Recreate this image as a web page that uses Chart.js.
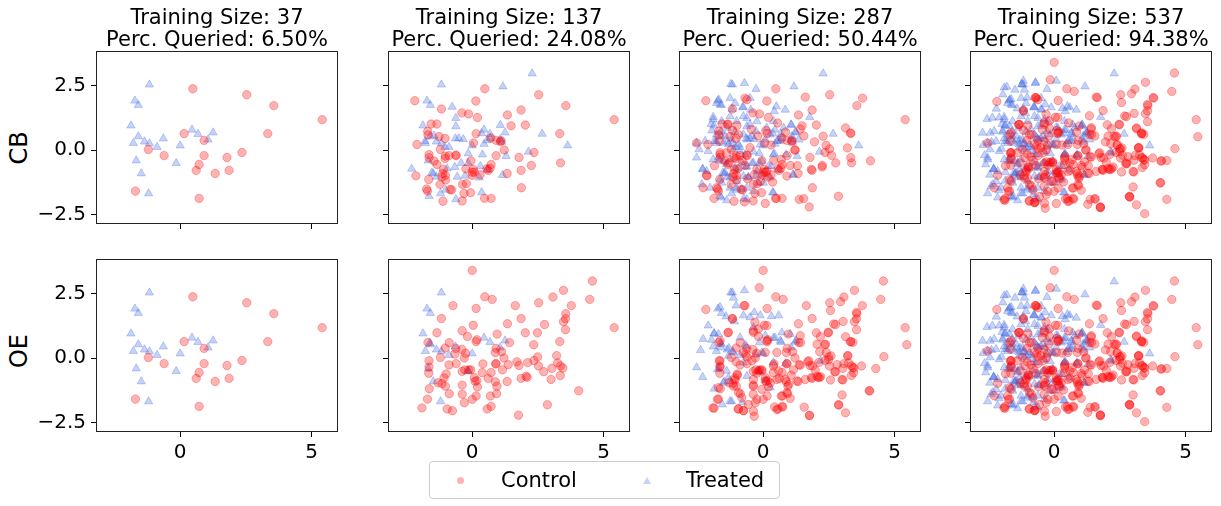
<!DOCTYPE html>
<html>
<head>
<meta charset="utf-8">
<script src="https://cdn.jsdelivr.net/npm/chart.js@4.4.1/dist/chart.umd.min.js"></script>
<style>
  body { margin: 0; background: #fff; width: 1221px; height: 506px; overflow: hidden; font-family: 'DejaVu Sans', sans-serif; }
  canvas { position: absolute; }
  .rowlab { position: absolute; font-size: 24px; color: #000; transform: translate(-50%, -50%) rotate(-90deg); white-space: nowrap; }
  #legend { position: absolute; left: 429px; top: 461px; width: 349px; height: 36px; border: 1px solid #ccc; border-radius: 4px; background: #fff; }
  #legend .txt { position: absolute; top: 0; line-height: 37px; font-size: 21px; color: #000; }
  #legend .circ { position: absolute; left: 27px; top: 15px; width: 7px; height: 7px; border-radius: 50%; background: rgba(255,0,0,0.3); }
  #legend .tri { position: absolute; left: 213px; top: 15px; width: 0; height: 0; border-left: 4px solid transparent; border-right: 4px solid transparent; border-bottom: 7px solid rgba(65,105,225,0.3); }
</style>
</head>
<body>
<div class="rowlab" style="left:19px;top:148px;">CB</div>
<div class="rowlab" style="left:19px;top:351px;">OE</div>
<div id="legend">
  <span class="circ"></span><span class="txt" id="lab0" style="left:71px;"></span>
  <span class="tri"></span><span class="txt" id="lab1" style="left:256px;"></span>
</div>
<script>
// ejes y etiquetas
const xTicks = [0, 5];
const xTickText = ['0', '5'];
const yTicks = [-2.5, 0, 2.5];
const yTickText = ['\u22122.5', '0.0', '2.5'];
const rowNames = ['CB', 'OE'];
const seriesNames = ['Control', 'Treated'];
const trainSizes = [37, 137, 287, 537];
const percQueried = ['6.50%', '24.08%', '50.44%', '94.38%'];

// panel 1 (igual en ambas filas)
const ctrl37 = [[0.48,2.37],[2.53,2.14],[3.56,1.72],[5.40,1.18],[3.33,0.64],[0.15,0.64],[0.91,0.38],[-1.21,0.03],[-0.61,-0.21],[0.91,-0.21],[1.78,-0.28],[2.35,-0.09],[0.72,-0.55],[0.61,-0.78],[1.33,-0.90],[1.86,-0.78],[-1.70,-1.58],[0.72,-1.86]];
const treat37 = [[-1.17,2.53],[-1.72,1.91],[-1.59,1.74],[-1.87,0.95],[-1.59,0.53],[-1.78,0.27],[-1.36,0.33],[-1.17,0.26],[-0.88,0.12],[-0.64,0.45],[0.00,0.18],[-1.67,-0.40],[-1.48,-0.90],[-1.20,-1.67],[-0.15,-0.50],[0.45,0.79],[0.68,0.62],[1.06,0.41],[1.25,0.68]];

// CB: puntos nuevos hasta 137
const cbCtrl137 = [[-2.18,1.91],[0.14,1.90],[-0.39,1.44],[-0.14,1.40],[0.20,1.26],[-1.17,1.59],[1.34,1.36],[1.86,1.55],[1.48,0.94],[2.02,0.97],[-1.56,1.01],[-1.34,1.01],[-1.69,0.73],[-1.68,0.59],[-1.26,0.53],[-1.03,0.45],[-2.10,0.22],[-1.64,-0.17],[-1.64,-0.29],[-1.45,-0.42],[-1.34,-0.55],[-1.03,-0.32],[-0.88,-0.21],[0.05,0.28],[0.71,0.47],[1.22,0.01],[3.36,-0.49],[2.25,-0.59],[-0.05,-0.41],[-0.24,-0.72],[0.04,-0.74],[0.08,-0.85],[0.00,-0.97],[-0.22,-1.29],[-0.37,-1.32],[-0.06,-1.64],[-0.31,-1.67],[-0.38,-1.96],[0.47,-1.86],[1.87,-1.45],[-1.09,-0.74],[-1.02,-0.97],[-1.15,-1.04],[-1.01,-1.15],[-1.22,-1.32],[-1.65,-1.13],[-2.14,-0.99],[-0.84,-1.52],[-1.11,-1.97],[-1.02,-0.23],[1.08,0.33],[-1.73,-1.50],[-0.78,-1.53],[0.68,-0.70],[0.56,-0.72],[-0.62,-0.19],[-1.12,-0.90],[0.00,-0.85],[1.10,0.37],[0.30,-0.95]];
const cbTreat137 = [[2.28,2.96],[1.17,2.46],[-0.76,1.67],[-0.62,1.24],[-0.62,0.92],[1.07,0.97],[2.66,0.63],[3.63,0.18],[2.14,-0.06],[1.29,-0.23],[0.39,-0.17],[-0.15,-0.12],[-1.45,0.56],[-1.79,0.35],[-0.51,0.46],[-0.34,0.42],[-1.04,0.13],[0.36,0.65],[0.45,0.24],[0.57,0.38],[1.12,0.32],[-2.30,-0.72],[-1.53,-0.87],[-1.36,-1.03],[-1.64,-1.77],[-1.01,-1.53],[-0.95,-0.71],[-0.66,-0.65],[-0.42,-0.50],[-0.57,-1.03],[-0.27,-0.99],[0.27,-1.06],[0.31,-0.62],[0.57,-0.74],[1.15,-0.96],[0.36,-1.63],[-0.62,-1.90],[0.69,0.47]];

// OE: puntos nuevos hasta 137
const oeCtrl137 = [[0.00,3.39],[4.57,2.98],[3.47,2.62],[3.07,2.36],[4.47,2.27],[3.77,2.03],[1.64,2.03],[0.76,2.27],[-0.73,2.03],[0.15,1.92],[-1.17,1.53],[3.55,1.52],[3.47,1.41],[3.55,1.10],[2.75,1.30],[1.86,1.53],[1.34,1.33],[0.04,1.27],[-0.38,1.06],[-0.18,0.84],[-1.34,0.98],[-1.68,0.61],[-0.87,0.60],[-1.03,0.39],[0.18,0.71],[0.95,0.93],[2.02,0.98],[2.48,0.98],[1.42,0.60],[2.34,0.52],[-0.62,0.38],[-0.39,0.34],[-0.25,0.19],[-0.30,0.01],[-0.66,0.16],[-1.64,-0.10],[-1.64,-0.34],[-1.65,-0.58],[-0.88,-0.26],[-0.38,-0.51],[-0.28,-0.45],[-0.13,-0.45],[-0.05,-0.45],[0.08,-0.75],[0.11,-0.89],[0.20,-1.11],[0.41,-0.22],[0.38,-0.56],[0.89,-0.22],[0.88,0.22],[1.12,0.25],[1.21,0.01],[1.15,-0.45],[1.37,-0.25],[1.70,-0.14],[2.11,-0.17],[2.49,0.05],[2.52,-0.30],[2.72,-0.52],[3.03,-0.39],[3.21,0.10],[3.25,-0.18],[3.36,-0.30],[3.45,-0.38],[3.35,-0.67],[3.00,-0.82],[4.05,-1.26],[2.86,-1.80],[2.09,-0.74],[0.94,-1.08],[0.93,-1.37],[0.69,-1.46],[0.57,-1.96],[1.76,-2.20],[0.15,-1.46],[0.00,-1.59],[-0.30,-1.72],[-0.38,-1.39],[-0.38,-1.04],[-0.87,-1.37],[-0.95,-1.96],[-0.75,-2.03],[-1.91,-1.92],[-1.63,-1.18],[-1.30,-0.95],[-1.15,-0.98],[-1.02,-1.08],[-1.07,-0.76],[-0.99,-0.61],[0.18,-0.87],[0.88,-0.91],[2.05,-0.70]];
const oeTreat137 = [[-1.62,0.58],[-0.17,-0.48]];

// CB: puntos nuevos hasta 287
const cbCtrl287 = [[3.78,2.01],[1.60,2.05],[3.13,0.86],[3.32,0.67],[2.28,0.54],[2.39,0.19],[2.52,0.05],[1.95,0.32],[3.20,0.09],[4.08,-0.41],[3.33,-0.29],[2.76,-0.49],[2.24,-0.65],[1.83,-0.74],[1.03,-0.59],[0.69,-0.36],[1.20,0.01],[-2.53,0.28],[-2.15,-0.97],[-2.28,-1.45],[-1.87,-1.86],[-1.77,-1.45],[-1.64,-0.10],[-1.67,0.35],[-1.35,0.99],[-1.17,0.77],[-0.94,0.60],[-0.69,2.01],[-0.62,1.95],[0.10,0.76],[1.41,0.82],[2.86,-1.78],[1.54,-1.87],[1.75,-2.19],[1.37,-1.90],[0.50,-1.86],[0.08,-2.06],[-0.71,-2.00],[0.36,-1.23],[0.18,-1.04],[0.14,-0.81],[-0.33,-0.94],[-0.69,-0.58],[-0.98,-0.72],[-1.11,-0.29],[-1.30,-0.49],[-0.80,-0.40],[-0.50,0.10],[-0.20,0.55],[0.30,0.20],[-1.40,-0.10],[-1.85,-0.60],[-0.60,-1.10],[-0.10,-1.20],[0.40,-0.40],[0.90,-1.00],[1.30,-0.60],[-1.00,0.95],[-0.45,0.80],[0.85,0.70],[1.55,0.55],[2.60,-0.20],[0.55,1.05]];
const cbTreat287 = [[-1.23,2.55],[-0.71,2.59],[-0.27,2.36],[-1.26,2.01],[-1.69,1.95],[-1.64,1.76],[-0.78,1.65],[-1.18,1.59],[-0.47,1.56],[-1.90,1.28],[-1.98,1.01],[-1.95,0.76],[-2.53,0.28],[-2.44,0.03],[-2.53,-0.29],[-2.30,-0.74],[-2.33,-1.32],[-1.59,-1.83],[-1.39,-1.94],[0.39,1.12],[0.84,1.56],[0.42,1.50],[0.50,1.69],[1.06,0.99],[1.22,0.71],[1.77,1.28],[0.42,-0.13],[0.87,-0.17],[1.13,-0.94],[0.39,-1.64],[-0.74,-1.87],[-1.86,0.35],[-1.77,0.60],[-1.60,0.73],[-1.51,0.28],[-1.36,0.86],[-1.32,0.22],[-1.20,0.41],[-1.07,0.71],[-0.94,0.22],[-0.75,0.60],[-0.60,0.41],[-0.43,0.54],[-0.27,0.73],[-0.11,0.22],[-1.13,0.03],[-0.88,-0.04],[-0.69,-0.17],[-0.37,-0.06],[-1.70,-0.29],[-1.51,-0.42],[-1.39,-0.55],[-1.26,-0.36],[-1.07,-0.68],[-0.81,-0.49],[-0.62,-0.62],[-0.37,-0.49],[-1.45,-0.87],[-1.26,-1.06],[-1.64,-1.13],[-1.01,-1.19],[-0.75,-1.00],[-0.56,-1.06],[-0.24,-0.81],[-0.05,-0.94],[-1.01,-1.45],[-0.81,-1.51],[-0.62,-1.45],[-1.26,-1.45],[-1.90,1.18],[-1.58,1.12],[-1.26,1.31],[-1.01,1.12],[-0.75,1.31],[-0.50,0.99],[-0.24,1.12],[0.14,0.86],[0.27,0.60],[0.52,0.35],[0.08,0.41],[-0.05,-0.42],[0.20,-0.62],[0.01,-1.26],[-1.90,-0.36],[-2.09,-0.04],[-2.21,0.35],[-1.77,1.82],[-1.07,1.82],[-0.50,2.01],[0.78,0.86],[0.65,0.35],[1.09,0.54],[1.35,0.41],[-0.18,-1.26],[-0.37,-1.58],[-1.58,-1.26],[-2.02,-1.45],[-2.15,-0.81]];

// OE: puntos nuevos hasta 287
const oeCtrl287 = [[-0.15,2.72],[2.94,2.18],[2.56,1.84],[3.55,1.77],[3.04,1.42],[2.68,1.32],[2.47,1.00],[2.18,0.83],[1.41,0.87],[1.35,0.61],[2.05,0.54],[2.37,0.54],[2.15,0.25],[2.40,0.22],[2.58,0.09],[2.49,-0.06],[3.22,0.09],[3.32,0.63],[3.41,0.61],[3.13,0.83],[4.59,0.06],[4.28,-0.40],[3.74,-0.30],[3.41,-0.36],[3.44,-0.56],[3.07,-0.21],[2.81,-0.25],[2.75,-0.53],[2.56,-0.84],[3.03,-0.84],[2.18,-0.71],[1.98,-0.47],[1.73,-0.10],[1.88,-0.30],[1.41,-0.27],[1.60,-0.82],[1.83,-0.75],[2.14,-0.75],[1.28,-0.88],[1.06,-0.66],[0.97,-1.01],[0.90,-1.33],[0.73,-1.46],[1.03,-1.55],[0.74,-1.89],[0.43,-1.88],[0.52,-1.98],[1.56,-1.89],[1.76,-2.22],[3.13,-2.11],[2.88,-1.81],[3.00,-1.42],[4.03,-1.26],[5.46,0.52],[0.14,1.26],[-0.31,1.39],[-0.18,1.13],[-0.37,1.00],[0.14,0.67],[0.08,0.22],[0.52,0.22],[0.39,-0.30],[0.59,-0.49],[0.84,-0.82],[0.52,-0.82],[0.27,-0.95],[-0.05,-0.49],[-0.18,-0.49],[-0.24,-0.58],[-0.37,-0.82],[-0.37,-1.08],[-0.05,-1.20],[0.08,-0.88],[-0.24,-1.59],[-0.56,-1.79],[-0.37,-2.05],[-0.34,-2.24],[-0.75,-2.02],[-0.94,-1.96],[-0.81,-1.53],[-0.94,-1.33],[-1.13,-1.08],[-1.07,-0.84],[-0.98,-0.66],[-1.70,-1.14],[-1.74,-1.59],[-1.87,-1.93],[-1.64,-0.30],[-1.67,-0.10],[-1.64,0.67],[-1.32,1.00],[-1.17,1.52],[-0.69,2.03],[-2.18,1.88],[-1.03,-0.14],[-0.75,0.22],[-0.62,0.05],[-0.43,-0.10]];
const oeTreat287 = [[-1.23,2.53],[-0.71,2.62],[-1.13,2.33],[-1.64,1.97],[-1.03,2.03],[-1.41,1.61],[-0.75,1.65],[-0.34,1.77],[-0.50,1.58],[-0.11,1.65],[0.31,1.62],[0.59,1.65],[-1.09,1.42],[-2.09,1.26],[-2.28,0.74],[-2.38,0.31],[-2.53,-0.36],[-2.30,-0.73],[-1.96,0.71],[-1.90,0.45],[-1.86,0.96],[-1.70,0.93],[-1.60,0.41],[-1.30,0.39],[-1.32,0.09],[-1.13,0.22],[-0.88,0.80],[-0.69,0.51],[-0.37,1.19],[-0.14,0.61],[0.08,0.87],[0.39,0.78],[0.71,0.99],[1.03,0.93],[1.22,0.63],[0.65,0.67],[-1.73,-0.43],[-1.39,-0.49],[-1.32,-0.75],[-1.26,-0.88],[-1.51,-0.95],[-1.86,-1.18],[-1.55,-1.79],[-1.26,-1.66],[-0.79,-1.70],[-0.62,-0.69],[0.27,-1.14],[0.11,-0.84],[0.39,-0.17],[0.85,-0.21],[-0.05,0.22],[2.18,-0.10],[-0.75,-0.17],[-0.28,0.16]];

// solo en el panel de 537
const ctrl537 = [[3.44,-2.45],[4.28,-1.90],[1.28,-2.09],[4.06,-0.42]];
const treat537 = [[-2.72,0.67],[-2.43,0.67],[-2.60,-0.55],[-2.53,-1.67],[-2.15,-1.83],[-1.90,2.42],[-1.49,2.33],[0.08,2.68],[-2.70,0.20],[-2.35,1.25],[-2.20,-1.20],[-2.45,-0.95],[-2.55,1.20],[-2.65,-0.20],[-2.40,-1.40],[-2.20,1.60],[-1.95,2.15],[-2.10,-1.55],[-1.80,2.45],[-1.17,2.68],[-2.00,0.05],[-1.85,-0.85]];

const pts = arr => arr.map(p => ({ x: p[0], y: p[1] }));

const cbCtrl = [ctrl37, ctrl37.concat(cbCtrl137), ctrl37.concat(cbCtrl137, cbCtrl287)];
const cbTreat = [treat37, treat37.concat(cbTreat137), treat37.concat(cbTreat137, cbTreat287)];
const oeCtrl = [ctrl37, ctrl37.concat(oeCtrl137), ctrl37.concat(oeCtrl137, oeCtrl287)];
const oeTreat = [treat37, treat37.concat(oeTreat137), treat37.concat(oeTreat137, oeTreat287)];
// 537: casi todo el conjunto (cbCtrl137 se solapa con oeCtrl137, no se repite)
const allCtrl = ctrl37.concat(oeCtrl137, oeCtrl287, cbCtrl287, ctrl537);
const allTreat = treat37.concat(cbTreat137, cbTreat287, oeTreat287, treat537);
cbCtrl.push(allCtrl); cbTreat.push(allTreat);
oeCtrl.push(allCtrl); oeTreat.push(allTreat);

document.getElementById('lab0').textContent = seriesNames[0];
document.getElementById('lab1').textContent = seriesNames[1];

Chart.defaults.font.family = "'DejaVu Sans', sans-serif";
Chart.defaults.color = '#000';

// marco completo del área (como matplotlib)
const framePlugin = {
    id: 'frame',
    afterDatasetsDraw(chart) {
        const a = chart.chartArea, ctx = chart.ctx;
        ctx.save();
        ctx.strokeStyle = '#222';
        ctx.lineWidth = 1;
        ctx.strokeRect(a.left + 0.5, a.top + 0.5, a.right - a.left - 1, a.bottom - a.top - 1);
        ctx.restore();
    }
};

const plotLeft = [96, 388, 679, 970];
const plotTop = [51, 259];
const plotW = 242, plotH = 173;
const sideW = 90, botH = 50;

function makePanel(row, col, ctrl, treat) {
    const cv = document.createElement('canvas');
    cv.width = sideW * 2 + plotW;
    cv.height = plotTop[0] + plotH + botH;
    cv.style.left = (plotLeft[col] - sideW) + 'px';
    cv.style.top = (plotTop[row] - plotTop[0]) + 'px';
    document.body.appendChild(cv);

    new Chart(cv.getContext('2d'), {
        type: 'scatter',
        data: {
            datasets: [
                {
                    label: seriesNames[0],
                    data: pts(ctrl),
                    pointStyle: 'circle',
                    pointRadius: 4.2,
                    pointBorderWidth: 1,
                    backgroundColor: 'rgba(255,0,0,0.3)',
                    borderColor: 'rgba(255,0,0,0.3)'
                },
                {
                    label: seriesNames[1],
                    data: pts(treat),
                    pointStyle: 'triangle',
                    pointRadius: 4.8,
                    pointBorderWidth: 1,
                    backgroundColor: 'rgba(65,105,225,0.3)',
                    borderColor: 'rgba(65,105,225,0.3)'
                }
            ]
        },
        options: {
            responsive: false,
            animation: false,
            events: [],
            layout: { padding: { left: 0, right: sideW, top: row === 0 ? 0 : plotTop[0], bottom: 0 } },
            plugins: {
                legend: { display: false },
                tooltip: { enabled: false },
                title: {
                    display: row === 0,
                    fullSize: false,
                    text: ['Training Size: ' + trainSizes[col], 'Perc. Queried: ' + percQueried[col]],
                    font: { size: 21, weight: 'normal', lineHeight: 1.057 },
                    padding: { top: 7, bottom: -0.4 },
                    color: '#000'
                }
            },
            scales: {
                x: {
                    type: 'linear',
                    min: -3.2, max: 6.0,
                    afterBuildTicks: s => { s.ticks = xTicks.map(v => ({ value: v })); },
                    afterFit: s => { s.height = botH; },
                    grid: { drawOnChartArea: false, drawTicks: true, tickLength: 5, color: '#000' },
                    border: { display: false },
                    ticks: {
                        display: row === 1,
                        font: { size: 20 },
                        padding: 4,
                        maxRotation: 0,
                        autoSkip: false,
                        callback: v => xTickText[xTicks.indexOf(v)]
                    }
                },
                y: {
                    type: 'linear',
                    min: -2.85, max: 3.83,
                    afterBuildTicks: s => { s.ticks = yTicks.map(v => ({ value: v })); },
                    afterFit: s => { s.width = sideW; },
                    grid: { drawOnChartArea: false, drawTicks: true, tickLength: 5, color: '#000' },
                    border: { display: false },
                    ticks: {
                        display: col === 0,
                        font: { size: 20 },
                        padding: 5,
                        autoSkip: false,
                        callback: v => yTickText[yTicks.indexOf(v)]
                    }
                }
            }
        },
        plugins: [framePlugin]
    });
}

for (let c = 0; c < 4; c++) {
    makePanel(0, c, cbCtrl[c], cbTreat[c]);
    makePanel(1, c, oeCtrl[c], oeTreat[c]);
}
// la leyenda encima de los lienzos
document.body.appendChild(document.getElementById('legend'));
</script>
</body>
</html>
